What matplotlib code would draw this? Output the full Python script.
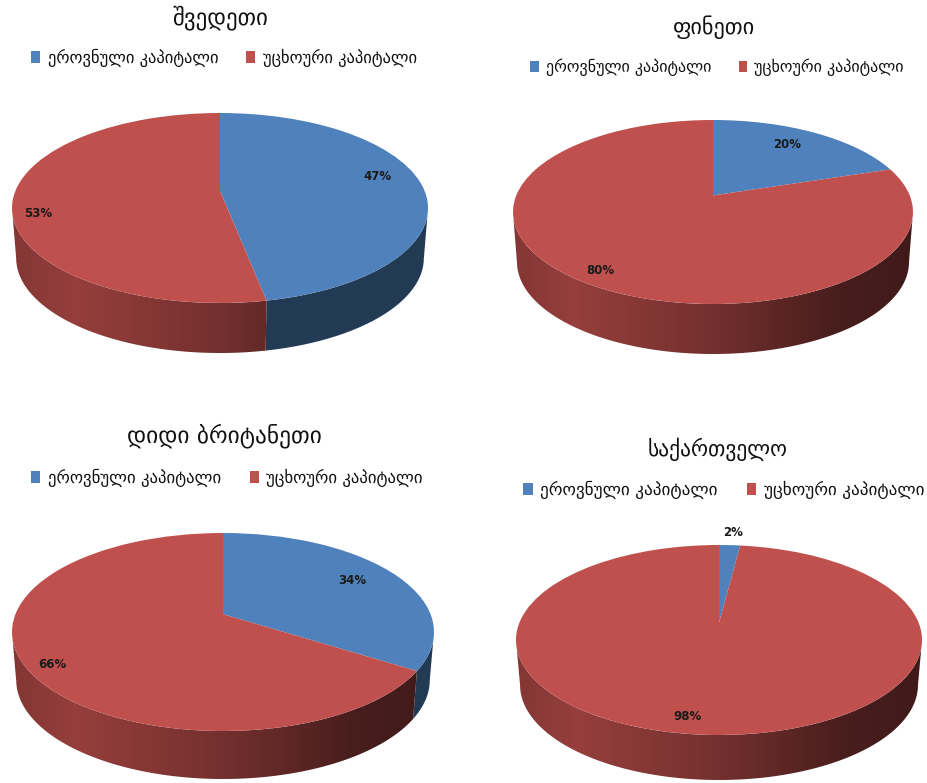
import matplotlib
matplotlib.use('Agg')
import matplotlib.pyplot as plt
import numpy as np
from matplotlib.colors import to_rgb
from matplotlib.patches import Patch, Polygon
from matplotlib.transforms import Transform

WIDTH, HEIGHT = 927, 783

countries = ['შვედეთი', 'ფინეთი', 'დიდი ბრიტანეთი', 'საქართველო']
series_names = ['ეროვნული კაპიტალი', 'უცხოური კაპიტალი']
national = [47, 20, 34, 2]
foreign = [53, 80, 66, 98]
colors = ['#4F81BD', '#C0504D']

# pie geometry in pixels: cx, cy, rx, ry, depth
geometry = [(220, 208, 208, 95, 50), (713, 212, 200, 92, 50),
            (223, 632, 211, 99, 48), (719, 640, 203, 95, 45)]
title_xy = [(220, 18), (714, 27), (224, 436), (718, 449)]
title_size = [16.5, 16, 16.8, 15.5]
legend_xy = [(224, 58), (717, 67), (227, 478), (724, 490)]
legend_size = [11.9, 11.5, 12.1, 12.3]
# label pixel positions: national, foreign
label_xy = [((378, 177), (38, 213)), ((787, 145), (600, 271)),
            ((352, 580), (52, 665)), ((733, 533), (688, 717))]

TILT = 0.18
BOTTOM_SCALE = 0.98

# side wall brightness of the red slices, left to right
shade_x = [-1.0, -0.7, 0.0, 0.6, 1.0]
shade_v = [0.68, 0.78, 0.60, 0.38, 0.33]
BLUE_SHADE = 0.45


class PerspectiveTilt(Transform):
    # moves the pie centre back but keeps the unit circle on itself
    input_dims = 2
    output_dims = 2

    def __init__(self, beta):
        super().__init__()
        self.beta = beta

    def transform_non_affine(self, values):
        values = np.asarray(values)
        x, y = values[:, 0], values[:, 1]
        d = 1 + self.beta * y
        return np.column_stack([x * np.sqrt(1 - self.beta ** 2) / d, (y + self.beta) / d])


def px_axes(fig, x0, y0, x1, y1):
    return fig.add_axes([x0 / WIDTH, 1 - y1 / HEIGHT, (x1 - x0) / WIDTH, (y1 - y0) / HEIGHT])


def draw_side(ax, values, squash, tilt):
    grid = np.linspace(-1, 1, 256)
    start = 90.0
    for value, color in zip(values, colors):
        end = start - value * 3.6
        t = np.radians(np.linspace(start, end, int(abs(end - start) * 2) + 2))
        pts = tilt.transform_non_affine(np.column_stack([np.cos(t), np.sin(t)]))
        pts = pts[pts[:, 1] <= 0]
        start = end
        if len(pts) < 2:
            continue
        base = np.array(to_rgb(color))
        if color == colors[0]:
            shade = np.full(grid.shape, BLUE_SHADE)
        else:
            shade = np.interp(grid, shade_x, shade_v)
        img = (shade[:, None] * base)[None, :, :]
        im = ax.imshow(img, extent=(-1, 1, -1 - squash, 1), aspect='auto', zorder=1)
        bottom = np.column_stack([pts[:, 0] * BOTTOM_SCALE, pts[:, 1] - squash])
        clip = Polygon(np.vstack([pts, bottom[::-1]]), closed=True, transform=ax.transData)
        im.set_clip_path(clip)


def draw_pie(fig, i):
    cx, cy, rx, ry, depth = geometry[i]
    values = [national[i], foreign[i]]
    ax = px_axes(fig, cx - rx, cy - ry, cx + rx, cy + ry + depth)
    squash = depth / ry
    tilt = PerspectiveTilt(TILT)
    draw_side(ax, values, squash, tilt)
    wedges, _ = ax.pie(values, colors=colors, startangle=90, counterclock=False, radius=1)
    for w in wedges:
        w.set_transform(tilt + ax.transData)
        w.set_zorder(2)
    ax.set_aspect('auto')
    ax.set_xlim(-1, 1)
    ax.set_ylim(-1 - squash, 1)
    ax.axis('off')

    for (lx, ly), value in zip(label_xy[i], values):
        fig.text(lx / WIDTH, 1 - ly / HEIGHT, f'{value}%', ha='center', va='center',
                 fontsize=8.5, fontweight='bold', color='#1a1a1a', zorder=5)

    tx, ty = title_xy[i]
    fig.text(tx / WIDTH, 1 - ty / HEIGHT, countries[i], ha='center', va='center',
             fontsize=title_size[i], color='#111111')

    handles = [Patch(facecolor=c, edgecolor='none') for c in colors]
    lx, ly = legend_xy[i]
    fig.legend(handles, series_names, loc='center', bbox_to_anchor=(lx / WIDTH, 1 - ly / HEIGHT),
               ncol=2, frameon=False, fontsize=legend_size[i], handlelength=0.55, handleheight=0.7,
               handletextpad=0.45, columnspacing=1.7, labelcolor='#111111')


def main():
    fig = plt.figure(figsize=(WIDTH / 100, HEIGHT / 100), dpi=100)
    for i in range(len(countries)):
        draw_pie(fig, i)
    fig.savefig('out.png', dpi=100)


if __name__ == "__main__":
    main()
